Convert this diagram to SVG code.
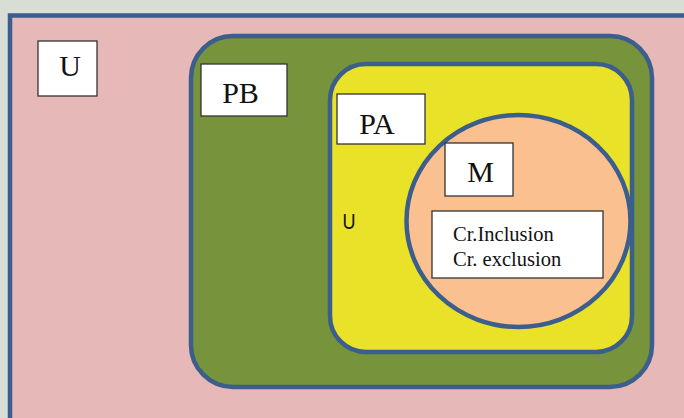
<svg xmlns="http://www.w3.org/2000/svg" width="684" height="418" viewBox="0 0 684 418">
<style>
.set{stroke:#3b5e8c;stroke-width:4.5}
.box{fill:#ffffff;stroke:#333333;stroke-width:1.3}
.lbl{font-family:"Liberation Serif","Times New Roman",serif;fill:#111111}
.big{font-size:30px}
.sans{font-family:"Liberation Sans",Arial,sans-serif;fill:#111111}
</style>
<rect x="0" y="0" width="684" height="418" fill="#d8ddd6"/>
<g id="U">
<rect class="set" x="10" y="15.5" width="690" height="420" fill="#e6b8b7"/>
<rect class="box" x="38" y="41" width="59" height="55"/>
<text class="lbl big" x="70" y="76" text-anchor="middle">U</text>
</g>
<g id="PB">
<rect class="set" x="191" y="36" width="461" height="351" rx="42" fill="#77933c"/>
<rect class="box" x="201" y="64" width="86" height="52"/>
<text class="lbl big" x="240.5" y="103" text-anchor="middle">PB</text>
</g>
<g id="PA">
<rect class="set" x="330" y="64" width="302" height="288" rx="36" fill="#e9e229"/>
<rect class="box" x="337" y="94" width="88" height="50"/>
<text class="lbl big" x="377" y="134" text-anchor="middle">PA</text>
<text class="sans" x="342.5" y="229" font-size="22" textLength="13" lengthAdjust="spacingAndGlyphs">U</text>
</g>
<g id="M">
<ellipse class="set" cx="518.5" cy="221" rx="112" ry="106" fill="#fac090"/>
<rect class="box" x="445" y="143" width="68" height="53"/>
<text class="lbl big" x="480.5" y="182" text-anchor="middle">M</text>
<rect class="box" x="432" y="211" width="171" height="67"/>
<text class="lbl" x="453" y="241" font-size="20.5">Cr.Inclusion</text>
<text class="lbl" x="453" y="266" font-size="20.5">Cr. exclusion</text>
</g>
<g id="connectors"/>
</svg>
